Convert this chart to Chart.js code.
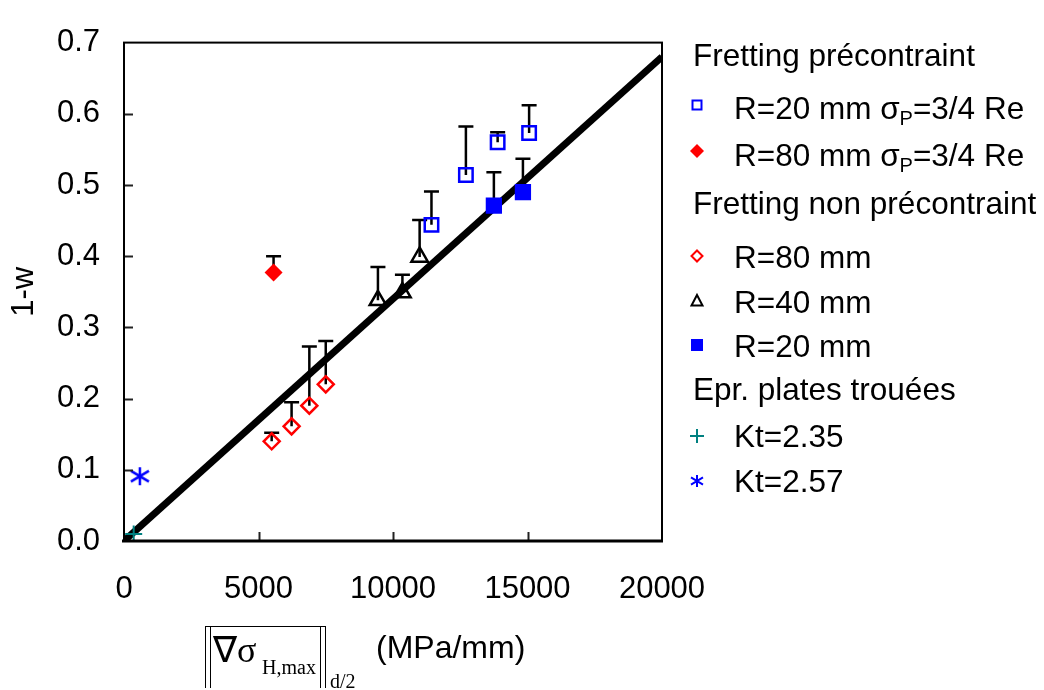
<!DOCTYPE html>
<html>
<head>
<meta charset="utf-8">
<script src="https://cdn.jsdelivr.net/npm/chart.js@4.4.0/dist/chart.umd.min.js"></script>
<style>
  body { margin: 0; background: #fff; }
  #wrap { position: relative; width: 1044px; height: 690px; font-family: "Liberation Sans", Arial, sans-serif; color: #000; overflow: hidden; }
  #chart { position: absolute; left: 0; top: 0; }
  .lg { position: absolute; font-size: 31.5px; line-height: 36px; white-space: nowrap; }
  .lg sub { font-size: 20px; vertical-align: -6px; line-height: 0; }
  .xt { position: absolute; white-space: nowrap; line-height: 1; }
  .serif { font-family: "Liberation Serif", "Times New Roman", serif; }
  .bar { position: absolute; top: 627px; height: 61px; width: 0; border-left: 1.6px solid #000; }
</style>
</head>
<body>
<div id="wrap">
  <canvas id="chart" width="1044" height="690"></canvas>
  <div id="legend"></div>
  <!-- x axis title: overlined norm of grad sigma -->
  <div class="bar" style="left:205px"></div>
  <div class="bar" style="left:209.5px"></div>
  <div class="bar" style="left:320px"></div>
  <div class="bar" style="left:324.5px"></div>
  <div style="position:absolute;left:205px;top:626px;width:121px;border-top:1.6px solid #000"></div>
  <div class="xt serif" style="left:213px;top:632px;font-size:36px">&nabla;&sigma;</div>
  <div class="xt serif" style="left:262px;top:657px;font-size:20px">H,max</div>
  <div class="xt serif" style="left:330px;top:671px;font-size:20px">d/2</div>
  <div class="xt" style="left:376px;top:631px;font-size:32px">(MPa/mm)</div>
</div>
<script>
// axis ticks
const xTicks = [0, 5000, 10000, 15000, 20000];
const yTicks = [0, 0.1, 0.2, 0.3, 0.4, 0.5, 0.6, 0.7];

// Fretting precontraint, R=20 mm (open blue squares)
const openSqX = [11430, 12710, 13890, 15060];
const openSqY = [0.444, 0.514, 0.560, 0.573];
const openSqTop = [0.491, 0.582, 0.574, 0.612];

// Fretting precontraint, R=80 mm (filled red diamond)
const fullDiaX = [5560];
const fullDiaY = [0.377];
const fullDiaTop = [0.400];

// Fretting non precontraint, R=80 mm (open red diamonds)
const openDiaX = [5490, 6230, 6890, 7500];
const openDiaY = [0.140, 0.161, 0.190, 0.220];
const openDiaTop = [0.152, 0.195, 0.273, 0.281];

// Fretting non precontraint, R=40 mm (triangles)
const triX = [9440, 10350, 10990];
const triY = [0.338, 0.349, 0.399];
const triTop = [0.385, 0.374, 0.451];

// Fretting non precontraint, R=20 mm (filled blue squares)
const fullSqX = [13750, 14830];
const fullSqY = [0.471, 0.490];
const fullSqTop = [0.518, 0.537];

// plates trouees
const kt235X = [360];
const kt235Y = [0.010];
const kt257X = [590];
const kt257Y = [0.091];

// fitted line
const fitX = [0, 20000];
const fitY = [0, 0.68];

const FONT = '"Liberation Sans", Arial, sans-serif';
const BLUE = '#0000ff';
const RED = '#ff0000';
const TEAL = '#008080';

function pts(xs, ys) {
  return xs.map((x, i) => ({ x: x, y: ys[i] }));
}

// asterisk marker: vertical bar plus an X
function makeAsterisk(size, color, lw) {
  const c = document.createElement('canvas');
  c.width = size;
  c.height = size;
  const g = c.getContext('2d');
  const m = size / 2, r = size / 2 - 1;
  g.strokeStyle = color;
  g.lineWidth = lw;
  g.beginPath();
  g.moveTo(m, m - r); g.lineTo(m, m + r);
  g.moveTo(m - r, m - r * 0.6); g.lineTo(m + r, m + r * 0.6);
  g.moveTo(m - r, m + r * 0.6); g.lineTo(m + r, m - r * 0.6);
  g.stroke();
  return c;
}

const errorBars = [
  { x: openSqX, y: openSqY, top: openSqTop },
  { x: fullDiaX, y: fullDiaY, top: fullDiaTop },
  { x: openDiaX, y: openDiaY, top: openDiaTop },
  { x: triX, y: triY, top: triTop },
  { x: fullSqX, y: fullSqY, top: fullSqTop },
];

// legend rows (headers and items)
const legendRows = [
  { text: 'Fretting précontraint', y: 55 },
  { html: 'R=20 mm σ<sub>P</sub>=3/4 Re', y: 108, mark: 'openSq', my: 105 },
  { html: 'R=80 mm σ<sub>P</sub>=3/4 Re', y: 155, mark: 'fullDia', my: 151 },
  { text: 'Fretting non précontraint', y: 203 },
  { text: 'R=80 mm', y: 257, mark: 'openDia', my: 256 },
  { text: 'R=40 mm', y: 302, mark: 'tri', my: 301 },
  { text: 'R=20 mm', y: 346, mark: 'fullSq', my: 345 },
  { text: 'Epr. plates trouées', y: 389 },
  { text: 'Kt=2.35', y: 436, mark: 'plus', my: 436 },
  { text: 'Kt=2.57', y: 481, mark: 'star', my: 481 },
];

const legendEl = document.getElementById('legend');
legendRows.forEach(row => {
  const d = document.createElement('div');
  d.className = 'lg';
  d.style.left = (row.mark ? 734 : 693) + 'px';
  d.style.top = (row.y - 17.8) + 'px';
  if (row.html) d.innerHTML = row.html;
  else d.textContent = row.text;
  legendEl.appendChild(d);
});

function drawMark(ctx, kind, x, y) {
  ctx.save();
  ctx.lineWidth = 2;
  ctx.beginPath();
  if (kind === 'openSq') {
    ctx.strokeStyle = BLUE;
    ctx.strokeRect(x - 4.5, y - 4.5, 9, 9);
  } else if (kind === 'fullDia') {
    ctx.fillStyle = RED;
    ctx.moveTo(x, y - 7); ctx.lineTo(x + 7, y); ctx.lineTo(x, y + 7); ctx.lineTo(x - 7, y); ctx.closePath();
    ctx.fill();
  } else if (kind === 'openDia') {
    ctx.strokeStyle = RED;
    ctx.moveTo(x, y - 5.5); ctx.lineTo(x + 5.5, y); ctx.lineTo(x, y + 5.5); ctx.lineTo(x - 5.5, y); ctx.closePath();
    ctx.stroke();
  } else if (kind === 'tri') {
    ctx.strokeStyle = '#000';
    ctx.moveTo(x, y - 6); ctx.lineTo(x + 5.5, y + 4.5); ctx.lineTo(x - 5.5, y + 4.5); ctx.closePath();
    ctx.stroke();
  } else if (kind === 'fullSq') {
    ctx.fillStyle = BLUE;
    ctx.fillRect(x - 6, y - 6, 12, 12);
  } else if (kind === 'plus') {
    ctx.strokeStyle = TEAL;
    ctx.moveTo(x - 7, y); ctx.lineTo(x + 7, y);
    ctx.moveTo(x, y - 7); ctx.lineTo(x, y + 7);
    ctx.stroke();
  } else if (kind === 'star') {
    ctx.drawImage(makeAsterisk(14, BLUE, 2), x - 7, y - 7);
  }
  ctx.restore();
}

const framePlugin = {
  id: 'frame',
  beforeDatasetsDraw(chart) {
    // error bars (upper only), drawn below the markers
    const ctx = chart.ctx, xs = chart.scales.x, ys = chart.scales.y;
    ctx.save();
    ctx.strokeStyle = '#000';
    ctx.lineWidth = 2.5;
    errorBars.forEach(s => {
      s.x.forEach((xv, i) => {
        const px = xs.getPixelForValue(xv);
        const py = ys.getPixelForValue(s.y[i]);
        const pt = ys.getPixelForValue(s.top[i]);
        ctx.beginPath();
        ctx.moveTo(px, py); ctx.lineTo(px, pt);
        ctx.moveTo(px - 7.5, pt); ctx.lineTo(px + 7.5, pt);
        ctx.stroke();
      });
    });
    ctx.restore();
  },
  afterDraw(chart) {
    const ctx = chart.ctx, a = chart.chartArea, xs = chart.scales.x, ys = chart.scales.y;
    ctx.save();
    // inward tick marks
    ctx.strokeStyle = '#222';
    ctx.lineWidth = 2;
    ctx.beginPath();
    yTicks.slice(1, -1).forEach(v => {
      const py = Math.round(ys.getPixelForValue(v)) + 0.5;
      ctx.moveTo(a.left, py); ctx.lineTo(a.left + 9, py);
    });
    xTicks.slice(1, -1).forEach(v => {
      const px = Math.round(xs.getPixelForValue(v)) + 0.5;
      ctx.moveTo(px, a.bottom); ctx.lineTo(px, a.bottom - 9);
    });
    ctx.stroke();
    // plot box
    ctx.strokeStyle = '#000';
    ctx.lineWidth = 2;
    ctx.strokeRect(a.left, a.top, a.right - a.left, a.bottom - a.top);
    ctx.lineWidth = 3;
    ctx.beginPath();
    ctx.moveTo(a.left - 2, a.bottom); ctx.lineTo(a.right + 1, a.bottom);
    ctx.stroke();
    // legend markers
    legendRows.forEach(row => {
      if (row.mark) drawMark(ctx, row.mark, 697, row.my);
    });
    ctx.restore();
  }
};

const ctx = document.getElementById('chart').getContext('2d');
new Chart(ctx, {
  type: 'scatter',
  data: {
    datasets: [
      {
        label: 'R=20 mm σP=3/4 Re',
        data: pts(openSqX, openSqY),
        pointStyle: 'rect',
        pointRadius: 9.5,
        borderColor: BLUE,
        backgroundColor: 'rgba(0,0,0,0)',
        borderWidth: 2.5,
      },
      {
        label: 'R=80 mm σP=3/4 Re',
        data: pts(fullDiaX, fullDiaY),
        pointStyle: 'rectRot',
        pointRadius: 9,
        borderColor: RED,
        backgroundColor: RED,
        borderWidth: 0,
      },
      {
        label: 'R=80 mm',
        data: pts(openDiaX, openDiaY),
        pointStyle: 'rectRot',
        pointRadius: 8,
        borderColor: RED,
        backgroundColor: 'rgba(0,0,0,0)',
        borderWidth: 2.5,
      },
      {
        label: 'R=40 mm',
        data: pts(triX, triY),
        pointStyle: 'triangle',
        pointRadius: 9.5,
        borderColor: '#000',
        backgroundColor: 'rgba(0,0,0,0)',
        borderWidth: 2.5,
      },
      {
        label: 'R=20 mm',
        data: pts(fullSqX, fullSqY),
        pointStyle: 'rect',
        pointRadius: 11.5,
        borderColor: BLUE,
        backgroundColor: BLUE,
        borderWidth: 0,
      },
      {
        label: 'Kt=2.35',
        data: pts(kt235X, kt235Y),
        pointStyle: 'cross',
        pointRadius: 8.5,
        borderColor: TEAL,
        borderWidth: 2,
      },
      {
        label: 'Kt=2.57',
        data: pts(kt257X, kt257Y),
        pointStyle: makeAsterisk(20, BLUE, 2.5),
        borderColor: BLUE,
      },
      {
        label: 'fit',
        data: pts(fitX, fitY),
        showLine: true,
        pointRadius: 0,
        borderColor: '#000',
        borderWidth: 7,
      },
    ],
  },
  options: {
    responsive: false,
    animation: false,
    events: [],
    layout: { padding: { left: 0, top: 18, right: 382, bottom: 0 } },
    plugins: {
      legend: { display: false },
      tooltip: { enabled: false },
    },
    scales: {
      x: {
        type: 'linear',
        min: 0,
        max: 20000,
        afterBuildTicks: s => { s.ticks = xTicks.map(v => ({ value: v })); },
        afterFit: s => { s.height = 149; },
        grid: { display: false, drawTicks: false },
        border: { display: false },
        ticks: {
          color: '#000',
          font: { family: FONT, size: 31 },
          padding: 30,
          maxRotation: 0,
          autoSkip: false,
          callback: v => String(v),
        },
      },
      y: {
        type: 'linear',
        min: 0,
        max: 0.7,
        afterBuildTicks: s => { s.ticks = yTicks.map(v => ({ value: v })); },
        afterFit: s => { s.width = 124; },
        grid: { display: false, drawTicks: false },
        border: { display: false },
        ticks: {
          color: '#000',
          font: { family: FONT, size: 31 },
          padding: 24,
          autoSkip: false,
          callback: v => v.toFixed(1),
        },
        title: {
          display: true,
          text: '1-w',
          color: '#000',
          font: { family: FONT, size: 31 },
          padding: { top: 6, bottom: 0 },
        },
      },
    },
  },
  plugins: [framePlugin],
});
</script>
</body>
</html>
